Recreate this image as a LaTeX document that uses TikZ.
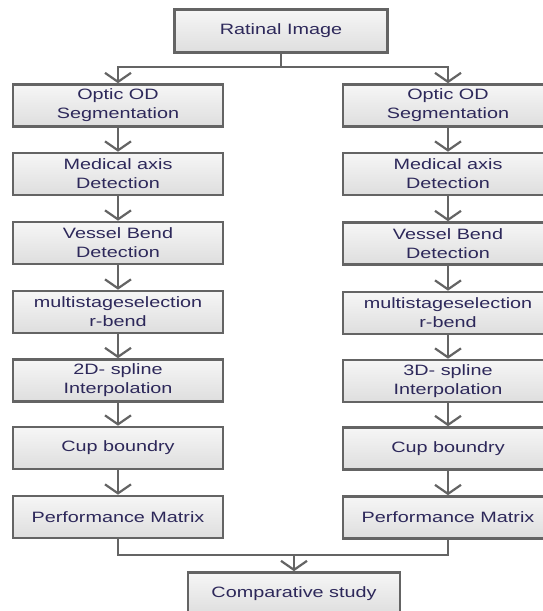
\documentclass[tikz,border=0pt]{standalone}
\usepackage{fontspec}
\setmainfont{Liberation Sans}[FakeStretch=1.32]
\usetikzlibrary{arrows.meta}
\definecolor{boxline}{RGB}{100,100,100}
\definecolor{txt}{RGB}{45,40,90}
\definecolor{filltop}{RGB}{246,246,246}
\definecolor{fillbot}{RGB}{222,222,222}
\tikzset{
  box/.style={draw=boxline, line width=2.6pt, top color=filltop, bottom color=fillbot,
    minimum width=210pt, minimum height=42pt, inner sep=0pt, align=center, text=txt,
    font=\fontsize{15pt}{19pt}\selectfont},
  conn/.style={draw=boxline, line width=2.2pt},
  arr/.style={conn, -{Straight Barb[length=9pt,width=26pt,line width=2.2pt]}}
}
\begin{document}
\begin{tikzpicture}[x=1pt,y=-1pt]
\useasboundingbox (0,0) rectangle (543,611);
\clip (0,0) rectangle (543,611);
\fill[white] (0,0) rectangle (543,611);
\node[box, minimum width=213pt, minimum height=43pt] (top) at (281,31) {Ratinal Image};
% left column
\node[box] (L1) at (118,105.5) {Optic OD\\Segmentation};
\node[box] (L2) at (118,174) {Medical axis\\Detection};
\node[box] (L3) at (118,243) {Vessel Bend\\Detection};
\node[box] (L4) at (118,312) {multistageselection\\r-bend};
\node[box] (L5) at (118,380.5) {2D- spline\\Interpolation};
\node[box] (L6) at (118,448) {Cup boundry};
\node[box] (L7) at (118,517) {Performance Matrix};
% right column
\node[box] (R1) at (448,105.5) {Optic OD\\Segmentation};
\node[box] (R2) at (448,174) {Medical axis\\Detection};
\node[box] (R3) at (448,243.5) {Vessel Bend\\Detection};
\node[box] (R4) at (448,313) {multistageselection\\r-bend};
\node[box] (R5) at (448,381) {3D- spline\\Interpolation};
\node[box] (R6) at (448,448.5) {Cup boundry};
\node[box] (R7) at (448,517.5) {Performance Matrix};
% bottom
\node[box, minimum width=212pt] (C) at (294,593.5) {Comparative study};
% connectors
\coordinate (split) at (281,67);
\draw[conn] (top.south) -- (split);
\draw[arr] (split) -| (L1.north);
\draw[arr] (split) -| (R1.north);
\foreach \a/\b in {L1/L2,L2/L3,L3/L4,L4/L5,L5/L6,L6/L7,R1/R2,R2/R3,R3/R4,R4/R5,R5/R6,R6/R7}
  \draw[arr] (\a.south) -- (\b.north);
\coordinate (merge) at (294,555);
\draw[conn] (L7.south) |- (merge);
\draw[conn] (R7.south) |- (merge);
\draw[arr] (merge) -- (C.north);
\end{tikzpicture}
\end{document}
